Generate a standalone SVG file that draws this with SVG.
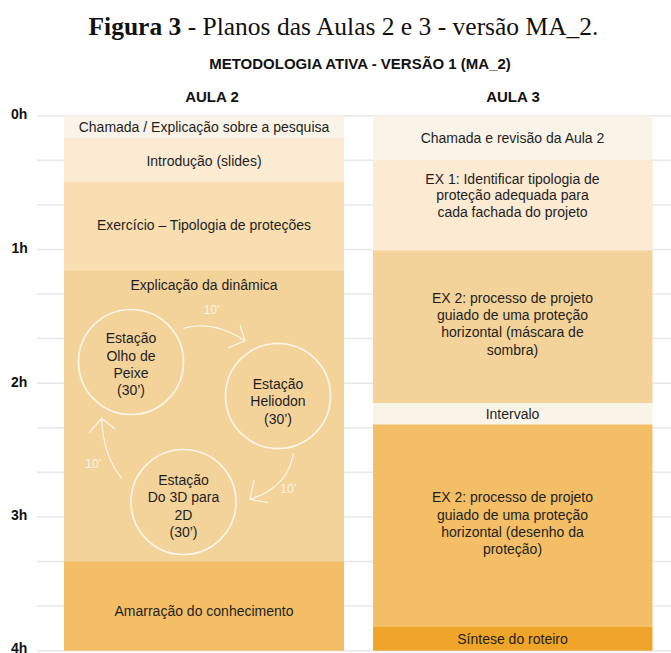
<svg xmlns="http://www.w3.org/2000/svg" width="671" height="653" viewBox="0 0 671 653">
<style>
.title{font-family:"Liberation Serif","Times New Roman",serif;font-size:25.5px;fill:#111}
.hdr{font-family:"Liberation Sans",Arial,sans-serif;font-weight:bold;font-size:15px;fill:#111;text-anchor:middle}
.ax{font-family:"Liberation Sans",Arial,sans-serif;font-weight:bold;font-size:14px;fill:#111}
.t{font-family:"Liberation Sans",Arial,sans-serif;font-size:14px;fill:#1e1e1e;text-anchor:middle}
.m{font-family:"Liberation Sans",Arial,sans-serif;font-size:12px;fill:#fff;fill-opacity:0.8;text-anchor:middle}
.grid{stroke:#e8e8e8;stroke-width:1.5}
.c1{fill:#faf4e8}.c2{fill:#fcead3}.c3{fill:#f8deb1}.c4{fill:#f4d39a}.c5{fill:#f3be66}.c6{fill:#efa529}
.st{fill:none;stroke:#fff7ea;stroke-width:1.6}
.ar{fill:none;stroke:#fff;stroke-opacity:0.85;stroke-width:1.1}
</style>
<text class="title" x="88.5" y="35"><tspan font-weight="bold">Figura 3</tspan> - Planos das Aulas 2 e 3 - versão MA_2.</text>
<text class="hdr" x="360" y="69.3">METODOLOGIA ATIVA - VERSÃO 1 (MA_2)</text>
<text class="hdr" x="212" y="102.4">AULA 2</text>
<text class="hdr" x="513" y="102.4">AULA 3</text>
<g id="axis">
<line class="grid" x1="37" y1="115.7" x2="671" y2="115.7"/>
<line class="grid" x1="37" y1="160.3" x2="671" y2="160.3"/>
<line class="grid" x1="37" y1="204.9" x2="671" y2="204.9"/>
<line class="grid" x1="37" y1="249.4" x2="671" y2="249.4"/>
<line class="grid" x1="37" y1="294" x2="671" y2="294"/>
<line class="grid" x1="37" y1="338.6" x2="671" y2="338.6"/>
<line class="grid" x1="37" y1="383.2" x2="671" y2="383.2"/>
<line class="grid" x1="37" y1="427.8" x2="671" y2="427.8"/>
<line class="grid" x1="37" y1="472.3" x2="671" y2="472.3"/>
<line class="grid" x1="37" y1="516.9" x2="671" y2="516.9"/>
<line class="grid" x1="37" y1="561.5" x2="671" y2="561.5"/>
<line class="grid" x1="37" y1="606.1" x2="671" y2="606.1"/>
<line class="grid" x1="37" y1="650.7" x2="671" y2="650.7"/>
<text class="ax" x="11" y="119">0h</text>
<text class="ax" x="11.5" y="252.5">1h</text>
<text class="ax" x="11" y="386.5">2h</text>
<text class="ax" x="11" y="520">3h</text>
<text class="ax" x="11" y="653">4h</text>
</g>
<g id="aula2">
<g id="a2-chamada"><rect class="c1" x="64" y="115.7" width="280" height="22.5"/><text class="t" x="204" y="132">Chamada / Explicação sobre a pesquisa</text></g>
<g id="a2-intro"><rect class="c2" x="64" y="138" width="280" height="43.7"/><text class="t" x="204" y="166">Introdução (slides)</text></g>
<g id="a2-exercicio"><rect class="c3" x="64" y="181.5" width="280" height="89.4"/><text class="t" x="204" y="230">Exercício – Tipologia de proteções</text></g>
<g id="a2-dinamica"><rect class="c4" x="64" y="270.7" width="280" height="291"/><text class="t" x="204" y="290">Explicação da dinâmica</text></g>
<g id="a2-amarracao"><rect class="c5" x="64" y="561.5" width="280" height="89.2"/><text class="t" x="204" y="616">Amarração do conhecimento</text></g>
</g>
<g id="estacao-olho">
<circle class="st" cx="131" cy="362" r="52.5"/>
<text class="t" x="131" y="343">Estação</text>
<text class="t" x="131" y="360.5">Olho de</text>
<text class="t" x="131" y="377.5">Peixe</text>
<text class="t" x="131" y="395">(30’)</text>
</g>
<g id="estacao-heliodon">
<circle class="st" cx="278" cy="396" r="52.5"/>
<text class="t" x="278" y="389">Estação</text>
<text class="t" x="278" y="406">Heliodon</text>
<text class="t" x="278" y="424">(30’)</text>
</g>
<g id="estacao-3d">
<circle class="st" cx="183.5" cy="502" r="52.5"/>
<text class="t" x="183.5" y="485">Estação</text>
<text class="t" x="183.5" y="502.3">Do 3D para</text>
<text class="t" x="183.5" y="519.7">2D</text>
<text class="t" x="183.5" y="537.3">(30’)</text>
</g>
<g id="connectors">
<path class="ar" d="M183.3,328.3 Q212.5,319.5 245,340.7"/>
<polyline class="ar" points="240,325 245,340.7 228.3,347.7"/>
<text class="m" x="211.7" y="313.5">10’</text>
<path class="ar" d="M293.3,453.3 Q288.3,487.1 250,499.3"/>
<polyline class="ar" points="254,480 250,499.3 268.3,502.7"/>
<text class="m" x="288.3" y="492.5">10’</text>
<path class="ar" d="M121.7,478.3 Q102.9,455.1 101.7,418.3"/>
<polyline class="ar" points="89.3,432.7 101.7,418.3 115,429"/>
<text class="m" x="93.3" y="467.5">10’</text>
</g>
<g id="aula3">
<g id="a3-chamada"><rect class="c1" x="373" y="115.7" width="279.5" height="44.5"/><text class="t" x="512.5" y="142.5">Chamada e revisão da Aula 2</text></g>
<g id="a3-ex1"><rect class="c2" x="373" y="160" width="279.5" height="90.6"/>
<text class="t" x="512.5" y="184">EX 1: Identificar tipologia de</text>
<text class="t" x="512.5" y="200.3">proteção adequada para</text>
<text class="t" x="512.5" y="216.6">cada fachada do projeto</text></g>
<g id="a3-ex2a"><rect class="c4" x="373" y="250.5" width="279.5" height="152.6"/>
<text class="t" x="512.5" y="303">EX 2: processo de projeto</text>
<text class="t" x="512.5" y="320.2">guiado de uma proteção</text>
<text class="t" x="512.5" y="337.4">horizontal (máscara de</text>
<text class="t" x="512.5" y="354.6">sombra)</text></g>
<g id="a3-intervalo"><rect class="c1" x="373" y="403" width="279.5" height="21.6"/><text class="t" x="512.5" y="419">Intervalo</text></g>
<g id="a3-ex2b"><rect class="c5" x="373" y="424.5" width="279.5" height="202.7"/>
<text class="t" x="512.5" y="502.3">EX 2: processo de projeto</text>
<text class="t" x="512.5" y="519.5">guiado de uma proteção</text>
<text class="t" x="512.5" y="536.7">horizontal (desenho da</text>
<text class="t" x="512.5" y="553.9">proteção)</text></g>
<g id="a3-sintese"><rect class="c6" x="373" y="627" width="279.5" height="23.7"/><text class="t" x="512.5" y="644">Síntese do roteiro</text></g>
</g>
</svg>
